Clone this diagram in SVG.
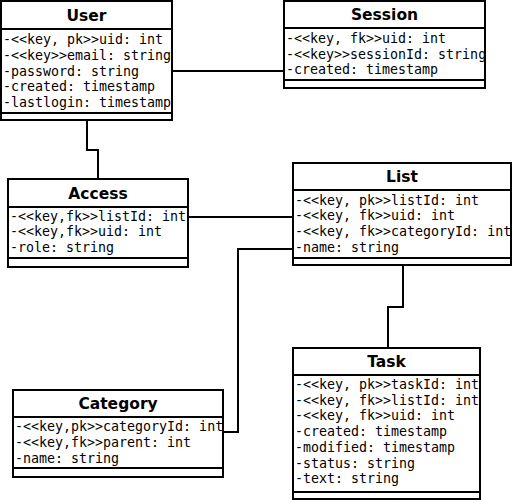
<svg xmlns="http://www.w3.org/2000/svg" width="512" height="500" viewBox="0 0 512 500">
<style>
.box{fill:#fff;stroke:#000;stroke-width:2}
.div{stroke:#000;stroke-width:2}
.title{font-family:"DejaVu Sans",sans-serif;font-weight:bold;font-size:15.5px;text-anchor:middle;fill:#000}
.attr{font-family:"DejaVu Sans Mono",monospace;font-size:13.3px;fill:#000}
.conn{fill:none;stroke:#000;stroke-width:2}
</style>
<rect width="512" height="500" fill="#fff"/>
<g id="connectors">
<polyline class="conn" points="172,71 285,71"/>
<polyline class="conn" points="87,120 87,150 98,150 98,179"/>
<polyline class="conn" points="188,217 293,217"/>
<polyline class="conn" points="293,249 238,249 238,432 223,432"/>
<polyline class="conn" points="403,265 403,307 388,307 388,348"/>
</g>
<g id="User">
<rect class="box" x="1" y="1" width="171" height="119"/>
<line class="div" x1="1" y1="29" x2="172" y2="29"/>
<line class="div" x1="1" y1="113" x2="172" y2="113"/>
<text class="title" x="86.5" y="20.5">User</text>
<text class="attr" x="3" y="44">-&lt;&lt;key, pk&gt;&gt;uid: int</text>
<text class="attr" x="3" y="60">-&lt;&lt;key&gt;&gt;email: string</text>
<text class="attr" x="3" y="75.5">-password: string</text>
<text class="attr" x="3" y="91">-created: timestamp</text>
<text class="attr" x="3" y="107">-lastlogin: timestamp</text>
</g>
<g id="Session">
<rect class="box" x="284" y="1" width="201" height="87"/>
<line class="div" x1="284" y1="28" x2="485" y2="28"/>
<line class="div" x1="284" y1="80" x2="485" y2="80"/>
<text class="title" x="384.5" y="20">Session</text>
<text class="attr" x="286" y="43">-&lt;&lt;key, fk&gt;&gt;uid: int</text>
<text class="attr" x="286" y="58.5">-&lt;&lt;key&gt;&gt;sessionId: string</text>
<text class="attr" x="286" y="74">-created: timestamp</text>
</g>
<g id="Access">
<rect class="box" x="8" y="179" width="180" height="88"/>
<line class="div" x1="8" y1="207" x2="188" y2="207"/>
<line class="div" x1="8" y1="258" x2="188" y2="258"/>
<text class="title" x="98" y="198.5">Access</text>
<text class="attr" x="10" y="220.5">-&lt;&lt;key,fk&gt;&gt;listId: int</text>
<text class="attr" x="10" y="236">-&lt;&lt;key,fk&gt;&gt;uid: int</text>
<text class="attr" x="10" y="252">-role: string</text>
</g>
<g id="List">
<rect class="box" x="293" y="163" width="218" height="102"/>
<line class="div" x1="293" y1="190" x2="511" y2="190"/>
<line class="div" x1="293" y1="258" x2="511" y2="258"/>
<text class="title" x="402" y="182">List</text>
<text class="attr" x="295" y="204.5">-&lt;&lt;key, pk&gt;&gt;listId: int</text>
<text class="attr" x="295" y="220">-&lt;&lt;key, fk&gt;&gt;uid: int</text>
<text class="attr" x="295" y="236">-&lt;&lt;key, fk&gt;&gt;categoryId: int</text>
<text class="attr" x="295" y="251.5">-name: string</text>
</g>
<g id="Category">
<rect class="box" x="13" y="390" width="210" height="87"/>
<line class="div" x1="13" y1="417" x2="223" y2="417"/>
<line class="div" x1="13" y1="468" x2="223" y2="468"/>
<text class="title" x="118" y="409">Category</text>
<text class="attr" x="15" y="431">-&lt;&lt;key,pk&gt;&gt;categoryId: int</text>
<text class="attr" x="15" y="447">-&lt;&lt;key,fk&gt;&gt;parent: int</text>
<text class="attr" x="15" y="463">-name: string</text>
</g>
<g id="Task">
<rect class="box" x="293" y="348" width="187" height="151"/>
<line class="div" x1="293" y1="375" x2="480" y2="375"/>
<line class="div" x1="293" y1="492" x2="480" y2="492"/>
<text class="title" x="386.5" y="367">Task</text>
<text class="attr" x="295" y="389">-&lt;&lt;key, pk&gt;&gt;taskId: int</text>
<text class="attr" x="295" y="404.5">-&lt;&lt;key, fk&gt;&gt;listId: int</text>
<text class="attr" x="295" y="420">-&lt;&lt;key, fk&gt;&gt;uid: int</text>
<text class="attr" x="295" y="436">-created: timestamp</text>
<text class="attr" x="295" y="452">-modified: timestamp</text>
<text class="attr" x="295" y="467.5">-status: string</text>
<text class="attr" x="295" y="483">-text: string</text>
</g>
</svg>
